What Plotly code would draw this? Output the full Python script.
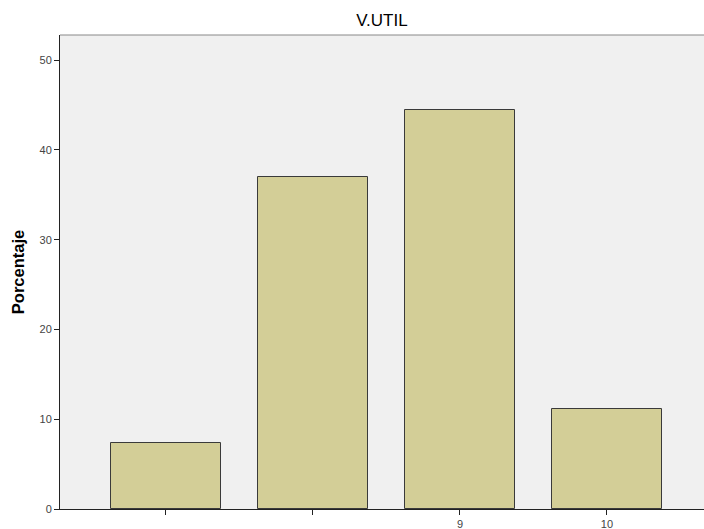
import plotly.graph_objects as go

categories = [7, 8, 9, 10]
tick_labels = ["", "", "9", "10"]
percentages = [7.4, 37.0, 44.4, 11.1]
y_ticks = [0, 10, 20, 30, 40, 50]

fig = go.Figure()
fig.add_trace(go.Bar(
    x=categories, y=percentages, width=0.748,
    marker=dict(color="#D3CE97", line=dict(color="#3a3a3a", width=1)),
))

fig.update_layout(
    width=704, height=529,
    margin=dict(l=60, r=0, t=35, b=20),
    paper_bgcolor="white", plot_bgcolor="#F0F0F0",
    title=dict(text="V.UTIL", x=0.5, xref="paper", xanchor="center",
               y=1 - 20/529, yanchor="middle",
               font=dict(family="Arial, Liberation Sans", size=17, color="#000")),
    showlegend=False,
    bargap=0,
    font=dict(family="Arial, Liberation Sans", size=11, color="#444"),
)
fig.update_xaxes(
    range=[6.279, 10.66], tickvals=categories, ticktext=tick_labels,
    showgrid=False, zeroline=False, showline=True, linecolor="#222", linewidth=1,
    ticks="outside", ticklen=5, tickcolor="#222",
    tickfont=dict(size=11, color="#444"),
)
fig.update_yaxes(
    range=[0, 52.8], tickvals=y_ticks, showgrid=False, zeroline=False,
    showline=True, linecolor="#222", linewidth=1,
    ticks="outside", ticklen=5, tickcolor="#222",
    tickfont=dict(size=11, color="#444"),
    title=dict(text="<b>Porcentaje</b>", font=dict(size=16.5, color="#000"), standoff=10),
)
fig.add_shape(type="line", xref="paper", yref="paper", x0=0, x1=1, y0=1, y1=1,
              line=dict(color="#888", width=1))

fig.write_html("out.html", config={"displayModeBar": False},
               post_script="document.body.style.margin='0';")
